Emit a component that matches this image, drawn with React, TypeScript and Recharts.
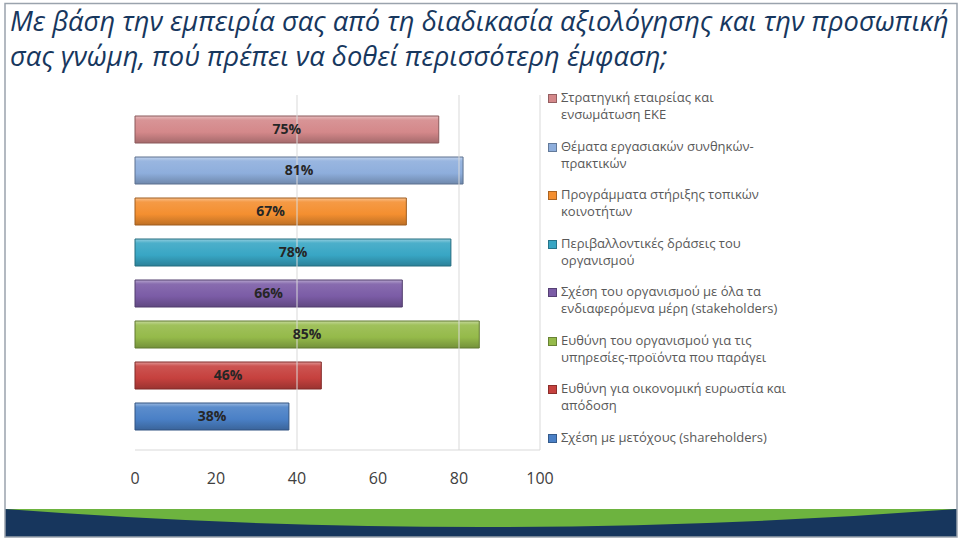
import React from 'react';
import { BarChart, Bar, XAxis, YAxis, ReferenceLine, LabelList } from 'recharts';

const titleLines = [
  'Με βάση την εμπειρία σας από τη διαδικασία αξιολόγησης και την προσωπική',
  'σας γνώμη, πού πρέπει να δοθεί περισσότερη έμφαση;',
];

const categories = ['Αξιολόγηση'];

const seriesNames = [
  'Στρατηγική εταιρείας και\nενσωμάτωση ΕΚΕ',
  'Θέματα εργασιακών συνθηκών-\nπρακτικών',
  'Προγράμματα στήριξης τοπικών\nκοινοτήτων',
  'Περιβαλλοντικές δράσεις του\nοργανισμού',
  'Σχέση του οργανισμού με όλα τα\nενδιαφερόμενα μέρη (stakeholders)',
  'Ευθύνη του οργανισμού για τις\nυπηρεσίες-προϊόντα που παράγει',
  'Ευθύνη για οικονομική ευρωστία και\nαπόδοση',
  'Σχέση με μετόχους (shareholders)',
];

const seriesValues = [75, 81, 67, 78, 66, 85, 46, 38];

const seriesColors = [
  '#D4888A',
  '#8EAEDC',
  '#F48F30',
  '#38A6C4',
  '#7B5CA6',
  '#95BA4A',
  '#C6413E',
  '#4A80C6',
];

const xTicks = [0, 20, 40, 60, 80, 100];
const gridValues = [40, 80, 100];

const data = categories.map((c) => {
  const row: Record<string, string | number> = { cat: c };
  seriesValues.forEach((v, i) => {
    row['s' + i] = v;
  });
  return row;
});

function shade(hex: string, amt: number): string {
  const n = parseInt(hex.slice(1), 16);
  let r = (n >> 16) & 255;
  let g = (n >> 8) & 255;
  let b = n & 255;
  if (amt >= 0) {
    r = Math.round(r + (255 - r) * amt);
    g = Math.round(g + (255 - g) * amt);
    b = Math.round(b + (255 - b) * amt);
  } else {
    r = Math.round(r * (1 + amt));
    g = Math.round(g * (1 + amt));
    b = Math.round(b * (1 + amt));
  }
  return '#' + ((1 << 24) + (r << 16) + (g << 8) + b).toString(16).slice(1);
}

const FONT = '"Open Sans", "Noto Sans", sans-serif';

export default function App() {
  return (
    <div
      style={{
        position: 'absolute',
        left: 0,
        top: 0,
        width: 960,
        height: 541,
        background: '#ffffff',
        overflow: 'hidden',
        fontFamily: FONT,
      }}
    >
      {/* Title */}
      <div
        style={{
          position: 'absolute',
          left: 10,
          top: 3,
          fontStyle: 'italic',
          fontSize: 27.3,
          lineHeight: '35px',
          color: '#17375E',
          whiteSpace: 'nowrap',
        }}
      >
        {titleLines.map((t, i) => (
          <div key={i}>{t}</div>
        ))}
      </div>

      <div style={{ position: 'absolute', left: 0, top: 0 }}>
        <BarChart
          width={960}
          height={541}
          data={data}
          layout="vertical"
          margin={{ top: 95, right: 420, bottom: 61, left: 135 }}
          barSize={27}
          barGap={14}
        >
          <defs>
            {seriesColors.map((c, i) => (
              <linearGradient key={i} id={'grad' + i} x1="0" y1="0" x2="0" y2="1">
                <stop offset="0%" stopColor={shade(c, 0.45)} />
                <stop offset="15%" stopColor={shade(c, 0.1)} />
                <stop offset="60%" stopColor={c} />
                <stop offset="100%" stopColor={shade(c, -0.22)} />
              </linearGradient>
            ))}
          </defs>
          <XAxis
            type="number"
            domain={[0, 100]}
            ticks={xTicks}
            interval={0}
            axisLine={{ stroke: '#D9D9D9' }}
            tickLine={false}
            tickSize={0}
            tickMargin={23}
            tick={{ fill: '#404040', fontSize: 16, fontFamily: FONT }}
            height={30}
          />
          <YAxis type="category" dataKey="cat" hide width={0} />
          {gridValues.map((g) => (
            <ReferenceLine key={g} x={g} stroke="#D9D9D9" strokeWidth={1} />
          ))}
          {seriesNames.map((name, i) => (
            <Bar
              key={i}
              dataKey={'s' + i}
              name={name}
              fill={`url(#grad${i})`}
              stroke={shade(seriesColors[i], -0.35)}
              strokeWidth={1}
              isAnimationActive={false}
            >
              <LabelList
                dataKey={'s' + i}
                position="center"
                formatter={(v: any) => `${v}%`}
                fill="#262626"
                fontSize={14}
                fontWeight="bold"
                fontFamily={FONT}
              />
            </Bar>
          ))}
        </BarChart>
      </div>

      {/* Legend */}
      <div
        style={{
          position: 'absolute',
          left: 546,
          top: 89,
          width: 280,
          fontSize: 13,
          lineHeight: '17px',
          color: '#595959',
        }}
      >
        {seriesNames.map((name, i) => (
          <div
            key={i}
            style={{ position: 'relative', height: 48.5, paddingLeft: 15, whiteSpace: 'pre-line' }}
          >
            <span
              style={{
                position: 'absolute',
                left: 2,
                top: 5,
                width: 7,
                height: 7,
                background: seriesColors[i],
                border: '1px solid ' + shade(seriesColors[i], -0.3),
              }}
            />
            {name}
          </div>
        ))}
      </div>

      {/* Slide frame and footer wave */}
      <svg
        width={960}
        height={541}
        style={{ position: 'absolute', left: 0, top: 0, pointerEvents: 'none' }}
      >
        <rect x={5} y={509} width={952} height={28} fill="#6DB33F" />
        <path d="M5,509 Q481,545 957,509 L957,537 L5,537 Z" fill="#17365D" />
        <rect x={5} y={3.5} width={952} height={533.5} fill="none" stroke="#9AA3AD" strokeWidth={1.5} />
      </svg>
    </div>
  );
}
